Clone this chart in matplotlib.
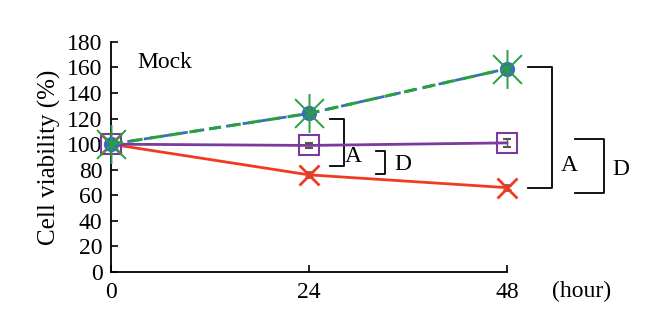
import matplotlib
matplotlib.use("Agg")
import matplotlib.pyplot as plt
from matplotlib.path import Path

plt.rcParams['font.family'] = ['Liberation Serif', 'DejaVu Serif']

hours = [0, 24, 48]
blue = [100, 124, 159]
green = [100, 124, 159]
purple = [100, 99, 101]
red = [100, 76, 66]
err_blue = [0, 3, 4]
err_purple = [0, 2, 3]
err_red = [0, 2, 2]
yticks = [0, 20, 40, 60, 80, 100, 120, 140, 160, 180]

# significance brackets: (x_left, x_right, y_top, y_bottom, label, label_x, label_y)
brackets = [
    (26.5, 28.2, 120, 83, "A", 29.4, 90),
    (32.1, 33.2, 95, 77, "D", 35.4, 84),
    (50.5, 53.5, 160, 66, "A", 55.6, 83),
    (56.2, 59.8, 104, 62, "D", 61.8, 80),
]

# X with a vertical bar, like the excel star marker
star = Path([(-1, -1), (1, 1), (-1, 1), (1, -1), (0, -1.35), (0, 1.35)],
            [Path.MOVETO, Path.LINETO] * 3)

fig = plt.figure(figsize=(6.6, 3.35), dpi=100)
ax = fig.add_axes([0.168, 0.188, 0.6, 0.687])

ax.errorbar(hours, red, yerr=err_red, color='#f23a22', lw=2, marker='x', ms=14, mew=2,
            ecolor='#666666', elinewidth=1, capsize=3, clip_on=False, zorder=3)
ax.errorbar(hours, purple, yerr=err_purple, color='#7a3a9e', lw=2, marker='s', ms=15,
            mfc='none', mew=1.5, ecolor='#555555', elinewidth=1, capsize=3, clip_on=False, zorder=4)
ax.errorbar(hours, blue, yerr=err_blue, color='#3c6cc0', lw=2, ls='--', dashes=(4, 2), marker='o',
            ms=10, ecolor='#555555', elinewidth=1, capsize=3, clip_on=False, zorder=5)
ax.plot(hours, green, color='#28a040', lw=2.2, ls='--', dashes=(4, 2.5), marker=star, ms=28,
        mfc='none', mec='#28a040', mew=1.4, clip_on=False, zorder=6)

for x0, x1, yt, yb, lab, lx, ly in brackets:
    ax.plot([x0, x1, x1, x0], [yt, yt, yb, yb], color='black', lw=1.3, clip_on=False)
    ax.text(lx, ly, lab, fontsize=17, ha='center', va='center')

ax.set_xlim(0, 48)
ax.set_ylim(0, 180)
ax.set_xticks(hours)
ax.set_yticks(yticks)
ax.tick_params(direction='in', length=5, width=1.2, labelsize=17, pad=6)
ax.tick_params(axis='x', pad=7)
for s in ['top', 'right']:
    ax.spines[s].set_visible(False)
for s in ['left', 'bottom']:
    ax.spines[s].set_linewidth(1.3)

ax.set_ylabel("Cell viability (%)", fontsize=18, labelpad=4)
ax.text(3.2, 164, "Mock", fontsize=17, ha='left', va='center')
ax.text(57, -15, "(hour)", fontsize=17, ha='center', va='center')

fig.savefig("out.png", dpi=100)
